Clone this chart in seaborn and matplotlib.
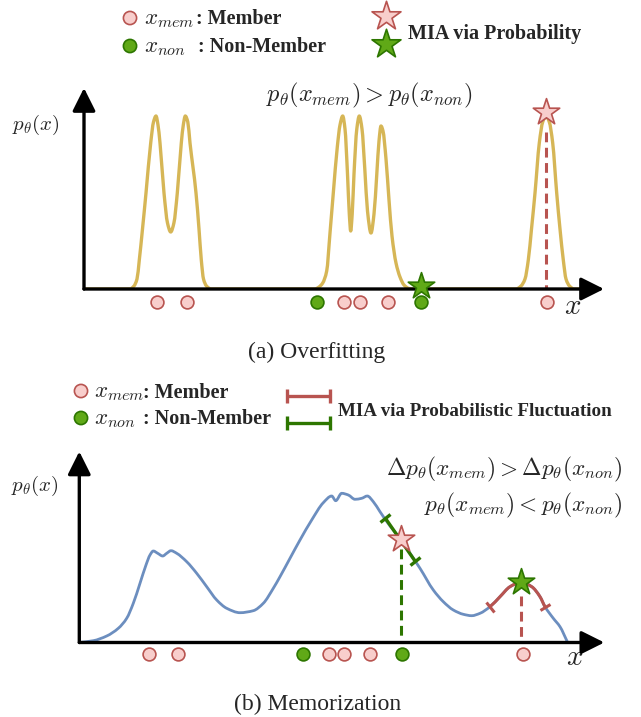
import numpy as np
import matplotlib
matplotlib.use("Agg")
import matplotlib.pyplot as plt
import seaborn as sns
import pandas as pd
from matplotlib.path import Path
from matplotlib.patches import PathPatch, ArrowStyle
from matplotlib.markers import MarkerStyle
from matplotlib.transforms import Affine2D

# ---------------- data ----------------
# (a) Overfitting: density curve knots (x, p_theta(x))
a_curve_x = [0, 4.6, 5.0, 5.3, 5.53, 5.85, 6.2, 6.67, 6.95, 7.2, 7.4, 7.6, 8.0, 8.35, 8.67,
             8.99, 9.33, 9.73, 9.93, 10.13, 10.38, 10.6, 11.2, 11.5, 11.73, 11.95, 12.25, 12.7,
             23.1, 23.5, 23.87, 24.27, 24.6, 24.93, 25.33, 25.6, 25.87, 26.1, 26.35, 26.53,
             26.67, 26.82, 27.0, 27.28, 27.53, 27.8, 28.08, 28.35, 28.7, 29.0, 29.28, 29.5,
             29.7, 29.9, 30.2, 30.5, 30.8, 31.2, 31.6, 32.0, 32.5, 33.0,
             43.2, 43.7, 44.1, 44.43, 44.75, 45.1, 45.53, 45.87, 46.2, 46.53, 46.87, 47.27,
             47.6, 47.93, 48.2, 48.55, 49.0, 51.6]
a_curve_y = [0, 0, 0.3, 1.0, 2.9, 6.0, 9.6, 14.6, 16.7, 17.3, 16.4, 14.6, 9.6, 6.6, 5.7,
             6.6, 9.6, 14.6, 16.4, 17.3, 16.7, 14.6, 9.6, 6.0, 2.9, 1.0, 0.3, 0,
             0, 0.2, 0.6, 1.8, 5.6, 9.6, 14.2, 16.4, 17.3, 16.0, 11.5, 7.5,
             5.8, 7.5, 11.5, 16.0, 17.3, 16.0, 12.0, 7.8, 5.6, 7.5, 11.5, 14.8,
             16.3, 15.8, 13.0, 8.9, 5.3, 2.6, 1.2, 0.4, 0.05, 0,
             0, 0.3, 1.0, 2.9, 6.0, 9.6, 14.6, 16.7, 17.3, 16.7, 14.6, 9.6,
             6.0, 2.9, 1.0, 0.3, 0, 0]
a_member_x = [7.27, 10.27, 26.03, 27.63, 30.4, 46.3]
a_nonmember_x = [23.33, 33.67]
a_star_member = [46.2, 17.7]
a_star_nonmember = [33.67, 0.3]
a_drop_member = [46.2, 15.7]          # dashed drop line (x, top)

# (b) Memorization: density curve knots
b_curve_x = [0.0, 1.4, 2.74, 3.9, 4.74, 5.4, 6.07, 6.67, 7.07, 7.4, 7.84, 8.34, 8.74, 9.17,
             9.74, 10.74, 11.74, 12.74, 13.74, 14.74, 16.07, 17.4, 18.4, 19.4, 20.07, 21.07,
             22.07, 23.24, 24.4, 25.24, 25.64, 26.24, 26.9, 27.57, 28.24, 28.8, 29.4, 30.07,
             31.07, 32.14, 33.07, 34.07, 35.4, 36.4, 37.4, 38.4, 39.24, 40.07, 41.07, 42.07,
             43.07, 44.17, 45.24, 46.07, 46.57, 47.4, 48.07, 48.8]
b_curve_y = [0.0, 0.18, 0.65, 1.42, 2.42, 3.92, 5.92, 7.75, 8.75, 9.15, 8.92, 8.65, 8.92, 9.18,
             8.92, 8.08, 6.92, 5.58, 4.25, 3.42, 2.98, 3.18, 3.92, 5.42, 6.58, 8.42,
             10.25, 12.25, 13.98, 14.65, 14.18, 14.92, 14.75, 14.32, 14.42, 14.65, 14.08, 13.08,
             11.65, 10.32, 8.92, 7.42, 5.25, 4.08, 3.25, 2.82, 2.68, 2.92, 3.58, 4.58,
             5.58, 6.02, 5.58, 4.58, 3.58, 2.42, 1.58, 0.08]
b_member_x = [6.97, 9.87, 24.97, 26.47, 29.07, 44.34]
b_nonmember_x = [22.34, 32.24]
b_star_member = [32.14, 10.32]
b_star_nonmember = [44.17, 6.02]
b_drop_member = [32.14, 9.4]
b_drop_nonmember = [44.17, 4.7]
b_fluct_red = [41.07, 46.57]                 # interval along the curve
b_fluct_green_x = [30.57, 33.57]
b_fluct_green_y = [12.48, 8.15]

# ---------------- style ----------------
YELLOW = "#d6b656"
BLUE = "#6c8ebf"
PINK_F, PINK_E = "#f8cecc", "#b85450"
GREEN_F, GREEN_E = "#60a917", "#2d7600"
RED = "#b85450"
DGREEN = "#2d7600"

sns.set_theme(style="white")
plt.rcParams['font.family'] = ['Liberation Serif', 'DejaVu Serif']
plt.rcParams['mathtext.fontset'] = 'cm'

W, H = 641, 717
fig = plt.figure(figsize=(W / 100, H / 100), dpi=100)
fig.patch.set_facecolor("white")
over = fig.add_axes([0, 0, 1, 1])
over.set_xlim(0, W)
over.set_ylim(H, 0)
over.axis('off')


def panel(px0, py0, x_max, y_max):
    ax = fig.add_axes([px0 / W, 1 - py0 / H, x_max * 10 / W, y_max * 10 / H])
    ax.set_xlim(0, x_max)
    ax.set_ylim(0, y_max)
    ax.axis('off')
    return ax


def smooth_path(x, y, i0=0, i1=None):
    x = np.asarray(x, float)
    y = np.asarray(y, float)
    n = len(x)
    if i1 is None:
        i1 = n - 1
    h = np.diff(x)
    d = np.diff(y) / h
    m = np.zeros(n)
    for i in range(1, n - 1):
        if d[i - 1] * d[i] > 0:
            w1 = 2 * h[i] + h[i - 1]
            w2 = h[i] + 2 * h[i - 1]
            m[i] = (w1 + w2) / (w1 / d[i - 1] + w2 / d[i])
    m[0] = d[0]
    m[-1] = d[-1]
    verts = [(x[i0], y[i0])]
    codes = [Path.MOVETO]
    for i in range(i0, i1):
        verts += [(x[i] + h[i] / 3, y[i] + m[i] * h[i] / 3),
                  (x[i + 1] - h[i] / 3, y[i + 1] - m[i + 1] * h[i] / 3),
                  (x[i + 1], y[i + 1])]
        codes += [Path.CURVE4] * 3
    return Path(verts, codes)


arrow_style = ArrowStyle('-|>', head_length=0.7, head_width=0.35)


def draw_axes_arrows(ax, x_max, y_max):
    for tip in [(x_max, 0), (0, y_max)]:
        ax.annotate('', xy=tip, xytext=(0, 0), annotation_clip=False, zorder=4,
                    arrowprops=dict(arrowstyle=arrow_style, mutation_scale=20,
                                    color='black', lw=2.4, shrinkA=0, shrinkB=0))


def cap_marker(ax, p, q):
    a = ax.transData.transform(p)
    b = ax.transData.transform(q)
    ang = np.degrees(np.arctan2(b[1] - a[1], b[0] - a[0]))
    return MarkerStyle('|', transform=Affine2D().rotate_deg(ang))


def points(ax, mem_x, non_x, y):
    dm = pd.DataFrame({'x': mem_x, 'y': [y] * len(mem_x)})
    dn = pd.DataFrame({'x': non_x, 'y': [y] * len(non_x)})
    sns.scatterplot(data=dm, x='x', y='y', ax=ax, s=85, color=PINK_F, edgecolor=PINK_E,
                    linewidth=1.2, clip_on=False, zorder=5, legend=False)
    sns.scatterplot(data=dn, x='x', y='y', ax=ax, s=85, color=GREEN_F, edgecolor=GREEN_E,
                    linewidth=1.2, clip_on=False, zorder=5, legend=False)


def star(ax, xy, fc, ec, s=400):
    ax.scatter([xy[0]], [xy[1]], marker='*', s=s, color=fc, edgecolor=ec,
               linewidth=1.2, zorder=7, clip_on=False)


# ---------------- panel (a) ----------------
axa = panel(84, 289, 52.0, 20.1)
axa.add_patch(PathPatch(smooth_path(a_curve_x, a_curve_y), fill=False, edgecolor=YELLOW,
                        lw=2.4, zorder=2, capstyle='round', joinstyle='round'))
draw_axes_arrows(axa, 52.0, 20.1)
axa.plot([a_drop_member[0]] * 2, [a_drop_member[1], 0], color=RED, lw=2.2,
         linestyle=(0, (3.2, 1.8)), zorder=3)
points(axa, a_member_x, a_nonmember_x, -1.27)
star(axa, a_star_member, PINK_F, PINK_E)
star(axa, a_star_nonmember, GREEN_F, GREEN_E)

# ---------------- panel (b) ----------------
axb = panel(79.3, 642.5, 52.5, 19.1)
axb.add_patch(PathPatch(smooth_path(b_curve_x, b_curve_y), fill=False, edgecolor=BLUE,
                        lw=2.0, zorder=2, capstyle='round', joinstyle='round'))
bx = np.asarray(b_curve_x)
i0 = int(np.argmin(np.abs(bx - b_fluct_red[0])))
i1 = int(np.argmin(np.abs(bx - b_fluct_red[1])))
axb.add_patch(PathPatch(smooth_path(b_curve_x, b_curve_y, i0, i1), fill=False, edgecolor=RED,
                        lw=2.2, zorder=3, capstyle='butt'))
for i in (i0, i1):
    mk = cap_marker(axb, (b_curve_x[i - 1], b_curve_y[i - 1]), (b_curve_x[i + 1], b_curve_y[i + 1]))
    axb.plot([b_curve_x[i]], [b_curve_y[i]], marker=mk, markersize=9, mew=2.2, color=RED, zorder=3)
axb.plot(b_fluct_green_x, b_fluct_green_y, color=DGREEN, lw=2.4, zorder=3, solid_capstyle='butt')
mk = cap_marker(axb, (b_fluct_green_x[0], b_fluct_green_y[0]), (b_fluct_green_x[1], b_fluct_green_y[1]))
axb.plot(b_fluct_green_x, b_fluct_green_y, linestyle='none', marker=mk, markersize=9, mew=2.4,
         color=DGREEN, zorder=3)
draw_axes_arrows(axb, 52.5, 19.1)
axb.plot([b_drop_member[0]] * 2, [b_drop_member[1], 0], color=DGREEN, lw=2.2,
         linestyle=(0, (3.2, 1.8)), zorder=3)
axb.plot([b_drop_nonmember[0]] * 2, [b_drop_nonmember[1], 0], color=RED, lw=2.2,
         linestyle=(0, (3.2, 1.8)), zorder=3)
points(axb, b_member_x, b_nonmember_x, -1.15)
star(axb, b_star_member, PINK_F, PINK_E)
star(axb, b_star_nonmember, GREEN_F, GREEN_E)

# ---------------- texts & legends (overlay, pixel coordinates) ----------------
BOLD = dict(fontsize=14.5, fontweight='bold', va='baseline', ha='left')
MATH = dict(fontsize=16.5, va='baseline', ha='left')

# legend (a)
over.scatter([130, 130], [18, 46], s=90, color=[PINK_F, GREEN_F], edgecolor=[PINK_E, GREEN_E],
             linewidth=1.2, zorder=5)
over.text(144, 24, r'$x_{mem}$', **MATH)
over.text(196, 24.5, ': Member', **BOLD)
over.text(144, 52, r'$x_{non}$', **MATH)
over.text(198, 52.5, ': Non-Member', **BOLD)
over.scatter([386], [16], marker='*', s=480, color=PINK_F, edgecolor=PINK_E, linewidth=1.2, zorder=5)
over.scatter([386], [44], marker='*', s=480, color=GREEN_F, edgecolor=GREEN_E, linewidth=1.2, zorder=5)
over.text(408, 39, 'MIA via Probability', **BOLD)

over.text(36, 125, r'$p_\theta(x)$', fontsize=15, ha='center', va='center')
over.text(369, 95, r'$p_\theta(x_{mem}) > p_\theta(x_{non})$', fontsize=17.5, ha='center', va='center')
over.text(573, 307, r'$x$', fontsize=21, ha='center', va='center')
over.text(317, 352, '(a) Overfitting', fontsize=17, ha='center', va='center')

# legend (b)
over.scatter([81, 81], [391, 418], s=90, color=[PINK_F, GREEN_F], edgecolor=[PINK_E, GREEN_E],
             linewidth=1.2, zorder=5)
over.text(94, 397, r'$x_{mem}$', **MATH)
over.text(143, 397.5, ': Member', **BOLD)
over.text(94, 424, r'$x_{non}$', **MATH)
over.text(143, 424.5, ': Non-Member', **BOLD)
for yy, cc in [(396, RED), (423, DGREEN)]:
    over.plot([287, 330], [yy, yy], color=cc, lw=2.4, solid_capstyle='butt')
    over.plot([287, 330], [yy, yy], linestyle='none', marker='|', markersize=10, mew=2.4, color=cc)
over.text(338, 416, 'MIA via Probabilistic Fluctuation', fontsize=13.7, fontweight='bold',
          va='baseline', ha='left')

over.text(35, 486, r'$p_\theta(x)$', fontsize=15, ha='center', va='center')
over.text(622, 469, r'$\Delta p_\theta(x_{mem}) > \Delta p_\theta(x_{non})$', fontsize=16.8,
          ha='right', va='center')
over.text(622, 505, r'$p_\theta(x_{mem}) < p_\theta(x_{non})$', fontsize=16.8, ha='right', va='center')
over.text(575, 658, r'$x$', fontsize=21, ha='center', va='center')
over.text(318, 704, '(b) Memorization', fontsize=17, ha='center', va='center')

fig.savefig("out.png", dpi=100, facecolor="white")
